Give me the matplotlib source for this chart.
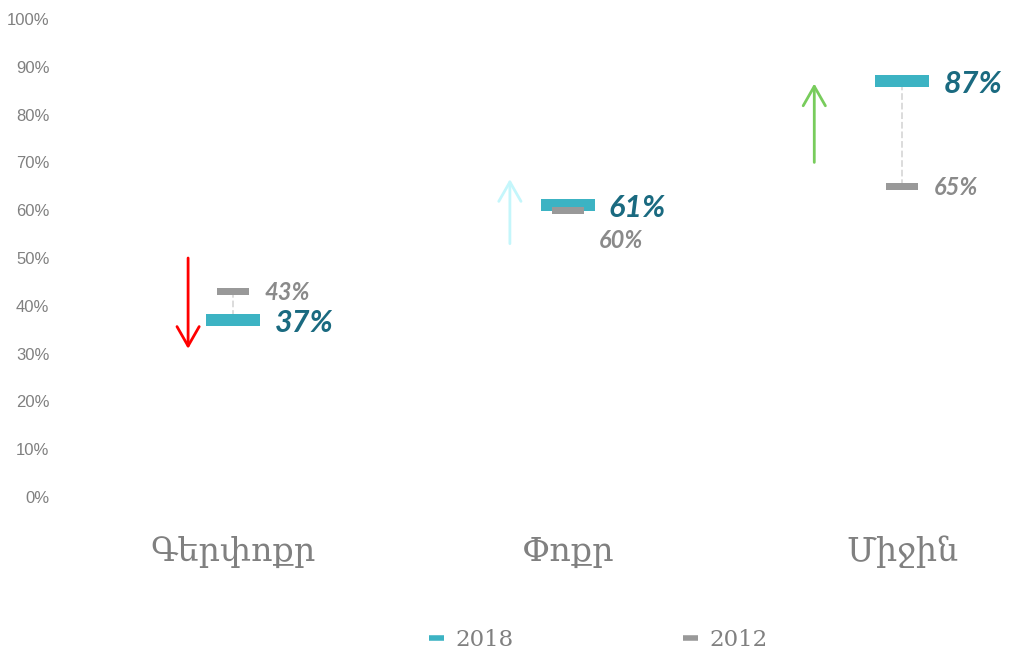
import matplotlib
matplotlib.use('Agg')
import matplotlib.pyplot as plt
from matplotlib.lines import Line2D

# data
categories = ['Գերփոքր', 'Փոքր', 'Միջին']
share_2018 = [0.37, 0.61, 0.87]
share_2012 = [0.43, 0.60, 0.65]
labels_2018 = ['37%', '61%', '87%']
labels_2012 = ['43%', '60%', '65%']
arrow_from = [0.50, 0.53, 0.70]
arrow_to = [0.31, 0.665, 0.865]

teal = '#3cb3c3'
teal_dark = '#1a6a80'
grey_bar = '#999999'
grey_txt = '#8a8a8a'
arrow_colors = ['#ff0000', '#c4f6fb', '#78cc5c']
arrow_dx = [-0.135, -0.173, -0.263]
grey_label_dy = [0.0, -0.06, 0.0]

fig = plt.figure(figsize=(10.19, 6.59), dpi=100)
ax = fig.add_axes([66 / 1019, 1 - 497 / 659, 1 - 66 / 1019, (497 - 19) / 659])
ax.set_xlim(-0.5, 2.349)
ax.set_ylim(0, 1)

x = list(range(len(categories)))
for i in x:
    # dashed connector between the two years
    ax.plot([i, i], [share_2012[i], share_2018[i]], ls='--', color='#d9d9d9',
            lw=1.3, zorder=1)
    ax.bar(i, 0.025, bottom=share_2018[i] - 0.0125, width=0.162,
           color=teal, zorder=2)
    ax.bar(i, 0.0146, bottom=share_2012[i] - 0.0073, width=0.097,
           color=grey_bar, zorder=3)
    ax.text(i + 0.081 + 0.042, share_2018[i] - 0.005, labels_2018[i],
            color=teal_dark, fontsize=22, fontweight='bold', style='italic',
            family='Lato', va='center', ha='left')
    ax.text(i + 0.049 + 0.045, share_2012[i] + grey_label_dy[i] - 0.003,
            labels_2012[i], color=grey_txt, fontsize=17, fontweight='bold',
            style='italic', family='Lato', va='center', ha='left')
    ax.annotate('', xy=(i + arrow_dx[i], arrow_to[i]),
                xytext=(i + arrow_dx[i], arrow_from[i]),
                arrowprops=dict(arrowstyle='->,head_length=0.7,head_width=0.4',
                                color=arrow_colors[i], lw=2,
                                shrinkA=0, shrinkB=0, mutation_scale=20))

ax.set_yticks([k / 10 for k in range(11)])
ax.set_yticklabels([f'{k * 10}%' for k in range(11)], color='#808080',
                   fontsize=12, family='Liberation Sans')
ax.set_xticks(x)
ax.set_xticklabels(categories, color='#808080', fontsize=24, family='DejaVu Serif')
ax.tick_params(axis='both', length=0)
ax.tick_params(axis='x', pad=28)
ax.tick_params(axis='y', pad=12)
for s in ax.spines.values():
    s.set_visible(False)

handles = [Line2D([], [], color=teal, lw=4, solid_capstyle='butt'),
           Line2D([], [], color=grey_bar, lw=4, solid_capstyle='butt')]
fig.legend(handles, ['2018', '2012'], loc='center', ncol=2,
           bbox_to_anchor=(598 / 1019, 1 - 640 / 659), frameon=False,
           prop={'family': 'DejaVu Serif', 'size': 16.5}, labelcolor='#808080',
           handlelength=0.65, handletextpad=0.5, columnspacing=7.4)

fig.savefig('out.png', dpi=100)
